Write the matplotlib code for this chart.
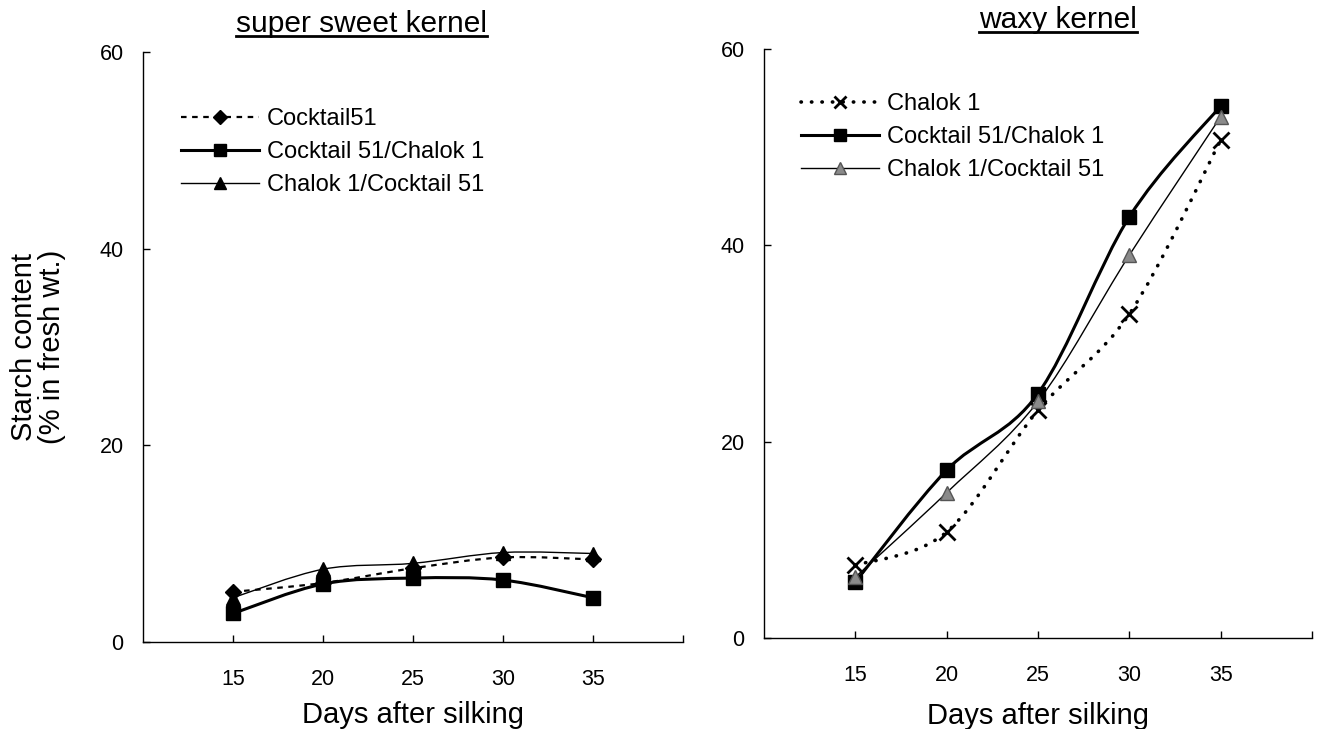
import matplotlib
matplotlib.use("Agg")
import matplotlib.pyplot as plt
from matplotlib.path import Path
from matplotlib.patches import PathPatch
from matplotlib.lines import Line2D

plt.rcParams['font.family'] = ['Liberation Sans', 'DejaVu Sans']

# ---------------- data ----------------
days = [15, 20, 25, 30, 35]
x_ticks = [15, 20, 25, 30, 35]
y_ticks = [0, 20, 40, 60]

# super sweet kernel
sweet_labels = ["Cocktail51", "Cocktail 51/Chalok 1", "Chalok 1/Cocktail 51"]
sweet_cocktail51 = [5.1, 6.0, 7.5, 8.6, 8.4]
sweet_c51_chalok1 = [2.9, 5.9, 6.5, 6.3, 4.5]
sweet_chalok1_c51 = [4.5, 7.4, 8.0, 9.1, 9.0]

# waxy kernel
waxy_labels = ["Chalok 1", "Cocktail 51/Chalok 1", "Chalok 1/Cocktail 51"]
waxy_chalok1 = [7.4, 10.8, 23.2, 33.0, 50.7]
waxy_c51_chalok1 = [5.7, 17.1, 24.9, 42.9, 54.2]
waxy_chalok1_c51 = [6.2, 14.8, 24.1, 39.0, 53.1]

titles = ["super sweet kernel", "waxy kernel"]
xlabel = "Days after silking"
ylabel = "Starch content\n(% in fresh wt.)"


def smooth_path(xs, ys):
    """Excel-style smoothed line (Catmull-Rom Bezier) through data points."""
    pts = list(zip(xs, ys))
    n = len(pts)
    verts = [pts[0]]
    codes = [Path.MOVETO]
    for i in range(n - 1):
        p0 = pts[i - 1] if i > 0 else pts[i]
        p1 = pts[i]
        p2 = pts[i + 1]
        p3 = pts[i + 2] if i + 2 < n else pts[i + 1]
        c1 = (p1[0] + (p2[0] - p0[0]) / 6.0, p1[1] + (p2[1] - p0[1]) / 6.0)
        c2 = (p2[0] - (p3[0] - p1[0]) / 6.0, p2[1] - (p3[1] - p1[1]) / 6.0)
        verts += [c1, c2, p2]
        codes += [Path.CURVE4] * 3
    return Path(verts, codes)


def draw_series(ax, xs, ys, style):
    patch = PathPatch(smooth_path(xs, ys), fill=False, edgecolor='black',
                      lw=style['lw'], linestyle=style['ls'], zorder=2)
    patch.set_capstyle(style.get('cap', 'butt'))
    ax.add_patch(patch)
    ax.plot(xs, ys, ls='none', marker=style['marker'], ms=style['ms'],
            mfc=style['mfc'], mec=style['mec'], mew=style['mew'], zorder=3)


def legend_handles(styles, labels):
    hs = []
    for st, lab in zip(styles, labels):
        h = Line2D([], [], color='black', lw=st['lw'], ls=st['ls'],
                   marker=st['marker'], ms=st['ms'] * 0.85, mfc=st['mfc'],
                   mec=st['mec'], mew=st['mew'], label=lab)
        h.set_dash_capstyle(st.get('cap', 'butt'))
        hs.append(h)
    return hs


def style_axes(ax):
    ax.set_xlim(10, 40)
    ax.set_ylim(0, 60)
    for s in ['top', 'right']:
        ax.spines[s].set_visible(False)
    for s in ['left', 'bottom']:
        ax.spines[s].set_linewidth(1.0)
    ax.set_xticks(x_ticks)
    ax.set_xticks([40], minor=True)
    ax.set_yticks(y_ticks)
    ax.tick_params(axis='x', which='both', direction='in', length=5, width=1,
                   labelsize=15.5, pad=19.5)
    ax.tick_params(axis='y', direction='in', length=5, width=1,
                   labelsize=15.5, pad=14)
    ax.set_xlabel(xlabel, fontsize=21)


fig = plt.figure(figsize=(13.18, 7.29), dpi=100)
W, H = 1318.0, 729.0
axL = fig.add_axes([143 / W, (H - 642) / H, 540 / W, 590 / H])
axR = fig.add_axes([764 / W, (H - 638) / H, 548 / W, 589 / H])

leg_kw = dict(loc='upper left', frameon=False, fontsize=17, handlelength=3.3,
              handletextpad=0.35, labelspacing=0.47, borderpad=0, borderaxespad=0)

# ---- left panel ----
sty_dash = dict(lw=1.6, ls=(0, (2.5, 2.5)), marker='D', ms=8.5, mfc='black', mec='black', mew=1)
sty_sq = dict(lw=2.2, ls='-', marker='s', ms=10.5, mfc='black', mec='black', mew=1)
sty_tri = dict(lw=1.0, ls='-', marker='^', ms=10.5, mfc='black', mec='black', mew=1)
left_series = [sweet_cocktail51, sweet_c51_chalok1, sweet_chalok1_c51]
left_styles = [sty_dash, sty_sq, sty_tri]
for ys, st in zip(left_series, left_styles):
    draw_series(axL, days, ys, st)
style_axes(axL)
axL.set_ylabel(ylabel, fontsize=21, linespacing=1.0)
axL.yaxis.set_label_coords(-0.143, 0.5)
axL.xaxis.set_label_coords(0.5, -0.1)
axL.legend(handles=legend_handles(left_styles, sweet_labels),
           bbox_to_anchor=(0.07, 0.905), **leg_kw)

# ---- right panel ----
sty_dot = dict(lw=2.6, ls=(0, (0.1, 2.8)), cap='round', marker='x', ms=11, mfc='black', mec='black', mew=2.0)
sty_sq2 = dict(lw=2.2, ls='-', marker='s', ms=10.5, mfc='black', mec='black', mew=1)
sty_tri2 = dict(lw=1.0, ls='-', marker='^', ms=10, mfc='#8a8a8a', mec='#555555', mew=1)
right_series = [waxy_chalok1, waxy_c51_chalok1, waxy_chalok1_c51]
right_styles = [sty_dot, sty_sq2, sty_tri2]
for ys, st in zip(right_series, right_styles):
    draw_series(axR, days, ys, st)
style_axes(axR)
axR.xaxis.set_label_coords(0.5, -0.108)
axR.legend(handles=legend_handles(right_styles, waxy_labels),
           bbox_to_anchor=(0.068, 0.925), **leg_kw)

# ---- underlined titles ----
t1 = fig.text(362 / W, 1 - 32 / H, titles[0], fontsize=21.5, ha='center', va='baseline')
t2 = fig.text(1058 / W, 1 - 28 / H, titles[1], fontsize=21.5, ha='center', va='baseline')
fig.canvas.draw()
renderer = fig.canvas.get_renderer()
for t in (t1, t2):
    bb = t.get_window_extent(renderer)
    ybase = t.get_position()[1] * H - 4
    fig.add_artist(Line2D([bb.x0 / W, bb.x1 / W], [ybase / H, ybase / H],
                          transform=fig.transFigure, color='black', lw=2.0))

fig.savefig("out.png", dpi=100)
